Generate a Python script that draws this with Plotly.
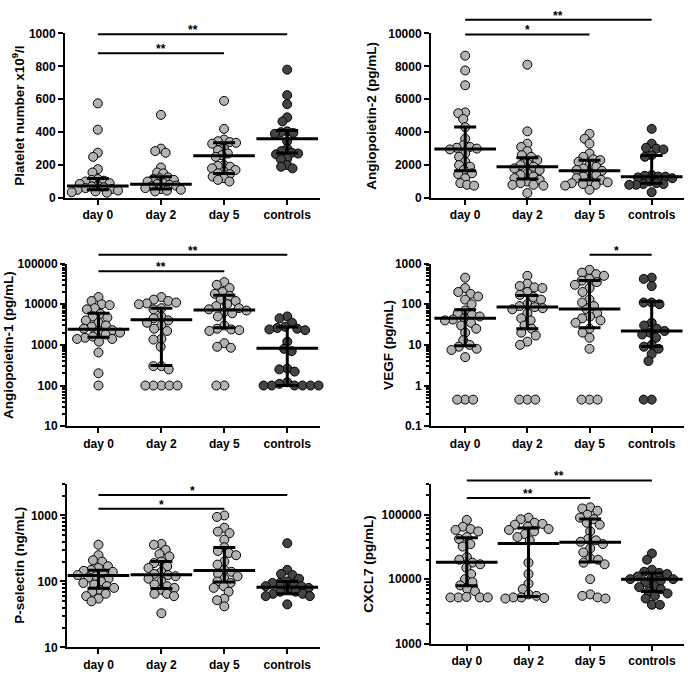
import numpy as np
import plotly.graph_objects as go

categories = ["day 0", "day 2", "day 5", "controls"]

# ---- Panel 1: Platelet number x10^9/l ----
plt_day0 = [575, 415, 275, 250, 175, 155, 115, 110, 105, 100, 90, 85, 75, 70, 65, 60, 55, 50, 45, 40, 35, 32]
plt_day2 = [505, 300, 285, 275, 185, 155, 150, 125, 120, 115, 110, 100, 90, 85, 80, 75, 70, 60, 55, 50, 45, 40]
plt_day5 = [590, 420, 355, 345, 340, 335, 330, 300, 290, 270, 260, 250, 200, 195, 190, 180, 170, 160, 150, 145, 130, 120, 110, 100]
plt_ctrl = [780, 625, 570, 490, 465, 405, 400, 395, 390, 345, 300, 285, 275, 270, 265, 240, 235, 200, 190, 180]
plt_med = [73, 83, 257, 360]
plt_q1 = [50, 55, 149, 273]
plt_q3 = [119, 129, 335, 410]

# ---- Panel 2: Angiopoietin-2 (pg/mL) ----
ang2_day0 = [8650, 7750, 6850, 5200, 5150, 4800, 4300, 3600, 3200, 3100, 3050, 3000, 2950, 2700, 2500, 2200, 2000, 1900, 1700, 1500, 1450, 1200, 900, 800, 750]
ang2_day2 = [8100, 4050, 3300, 3100, 2850, 2600, 2500, 2300, 2100, 2000, 1900, 1800, 1700, 1500, 1400, 1300, 1200, 1100, 1000, 900, 800, 800, 750, 300]
ang2_day5 = [3900, 3600, 3300, 2700, 2500, 2350, 2300, 2200, 2000, 1900, 1800, 1700, 1650, 1500, 1400, 1300, 1200, 1100, 1000, 950, 900, 850, 800, 750, 500]
ang2_ctrl = [4200, 3300, 3050, 3000, 2950, 2600, 2500, 1400, 1350, 1300, 1300, 1250, 1200, 1000, 900, 850, 850, 800, 800, 350]
ang2_med = [2980, 1890, 1650, 1290]
ang2_q1 = [1650, 1150, 1090, 895]
ang2_q3 = [4310, 2440, 2290, 2580]

# ---- Panel 3: Angiopoietin-1 (pg/mL) ----
ang1_day0 = [15000, 12000, 10000, 9500, 8000, 7500, 5800, 5000, 4700, 4000, 3500, 3000, 2800, 2500, 2300, 2200, 2000, 1800, 1600, 1500, 1400, 1400, 1200, 650, 200, 100]
ang1_day2 = [15000, 13000, 12000, 11000, 10500, 10000, 8000, 7500, 5000, 4500, 4000, 3500, 3000, 2500, 2200, 1400, 1350, 900, 300, 300, 250, 100, 100, 100, 100, 100]
ang1_day5 = [35000, 30000, 25000, 20000, 18000, 16000, 13000, 12000, 10000, 9000, 8000, 7500, 7000, 6500, 6000, 5000, 3000, 2500, 2400, 2300, 2200, 1100, 900, 850, 100, 100]
ang1_ctrl = [5000, 4500, 3500, 2800, 2600, 2500, 2400, 2300, 1200, 800, 700, 260, 250, 220, 120, 110, 100, 100, 100, 100, 100, 100]
ang1_med = [2420, 4130, 7180, 830]
ang1_q1 = [1530, 313, 2650, 100]
ang1_q3 = [5970, 8020, 16700, 2750]

# ---- Panel 4: VEGF (pg/mL) ----
vegf_day0 = [450, 250, 200, 180, 155, 130, 100, 70, 60, 55, 50, 45, 42, 40, 35, 30, 25, 20, 13, 10, 9, 8, 7.5, 5, 0.45, 0.45, 0.45]
vegf_day2 = [500, 320, 280, 260, 250, 200, 170, 150, 130, 100, 90, 85, 80, 75, 60, 45, 40, 30, 25, 20, 17, 12, 10, 0.45, 0.45, 0.45]
vegf_day5 = [700, 600, 550, 500, 420, 380, 350, 300, 250, 200, 130, 110, 90, 75, 60, 50, 45, 40, 35, 25, 20, 15, 8, 0.45, 0.45, 0.45]
vegf_ctrl = [450, 420, 280, 110, 110, 100, 35, 30, 25, 22, 20, 18, 15, 10, 9, 8, 6, 4, 0.45, 0.45]
vegf_med = [45, 86, 76, 22]
vegf_q1 = [9.5, 25, 26.5, 9.1]
vegf_q3 = [73, 164, 384, 116]

# ---- Panel 5: P-selectin (ng/mL) ----
psel_day0 = [360, 250, 210, 200, 170, 160, 150, 145, 140, 130, 125, 120, 115, 110, 100, 95, 90, 85, 80, 75, 70, 65, 60, 55, 50]
psel_day2 = [370, 360, 300, 260, 240, 200, 190, 170, 160, 140, 130, 125, 120, 110, 100, 90, 85, 80, 75, 65, 65, 60, 33]
psel_day5 = [1000, 950, 650, 570, 540, 430, 330, 290, 270, 250, 200, 180, 150, 140, 130, 120, 110, 100, 95, 85, 80, 70, 55, 52, 42]
psel_ctrl = [380, 150, 130, 125, 110, 100, 95, 95, 90, 85, 85, 80, 75, 70, 70, 65, 65, 60, 60, 45]
psel_med = [123, 126, 146, 82]
psel_q1 = [79, 78, 98, 65]
psel_q3 = [148, 200, 327, 100]

# ---- Panel 6: CXCL7 (pg/mL) ----
cxcl_day0 = [83000, 65000, 60000, 58000, 55000, 45000, 42000, 35000, 32000, 22000, 20000, 18000, 17000, 15000, 12000, 10000, 9000, 8000, 7000, 6500, 5200, 5200, 5200, 5200, 5300]
cxcl_day2 = [90000, 85000, 75000, 72000, 70000, 65000, 60000, 58000, 55000, 50000, 45000, 40000, 18000, 12000, 8500, 7000, 5800, 5500, 5200, 5200, 5100, 5000]
cxcl_day5 = [130000, 125000, 115000, 100000, 90000, 85000, 75000, 70000, 55000, 42000, 40000, 38000, 35000, 30000, 26000, 21000, 20000, 18000, 17000, 10000, 5800, 5500, 5200, 5000]
cxcl_ctrl = [25000, 20000, 14000, 13000, 12500, 12000, 11000, 10500, 10000, 10000, 9500, 9000, 8000, 7500, 7000, 6500, 6000, 5500, 5000, 4000, 4000]
cxcl_med = [18300, 35800, 37500, 10000]
cxcl_q1 = [7900, 5400, 18500, 6400]
cxcl_q3 = [43700, 62400, 85800, 12400]

titles = ["Platelet number x10<sup>9</sup>/l", "Angiopoietin-2 (pg/mL)", "Angiopoietin-1 (pg/mL)",
          "VEGF (pg/mL)", "P-selectin (ng/mL)", "CXCL7 (pg/mL)"]

# significance bars: (from category, to category, level value, label)
sig1 = [(0, 3, 995, "**"), (0, 2, 880, "**")]
sig2 = [(0, 3, 10830, "**"), (0, 2, 9940, "*")]
sig3 = [(0, 3, 166000, "**"), (0, 2, 64500, "**")]
sig4 = [(2, 3, 1660, "*")]
sig5 = [(0, 3, 2040, "*"), (0, 2, 1260, "*")]
sig6 = [(0, 3, 340000, "**"), (0, 2, 182000, "**")]

W, H = 688, 678
FONT = "Liberation Sans, Arial, Helvetica, sans-serif"
LIGHT = "#b3b3b3"
DARK = "#444444"

# panel layout in pixels: left, right, top, bottom, x-range, y-range, log?
panels = [
    dict(groups=[plt_day0, plt_day2, plt_day5, plt_ctrl], med=plt_med, q1=plt_q1, q3=plt_q3,
         px=(65, 320, 27, 195), xr=(-0.52, 3.52), yr=(0, 1000), log=False, dtick=200, sig=sig1, tx=18, D=6.3),
    dict(groups=[ang2_day0, ang2_day2, ang2_day5, ang2_ctrl], med=ang2_med, q1=ang2_q1, q3=ang2_q3,
         px=(431, 684, 27, 195), xr=(-0.55, 3.52), yr=(0, 10000), log=False, dtick=2000, sig=sig2, tx=372, D=7.0),
    dict(groups=[ang1_day0, ang1_day2, ang1_day5, ang1_ctrl], med=ang1_med, q1=ang1_q1, q3=ang1_q3,
         px=(67, 320, 262, 428), xr=(-0.5, 3.52), yr=(1, 5), log=True, sig=sig3, tx=9, D=8.0),
    dict(groups=[vegf_day0, vegf_day2, vegf_day5, vegf_ctrl], med=vegf_med, q1=vegf_q1, q3=vegf_q3,
         px=(431, 684, 262, 428), xr=(-0.55, 3.52), yr=(-1, 3), log=True, sig=sig4, tx=389, D=8.0),
    dict(groups=[psel_day0, psel_day2, psel_day5, psel_ctrl], med=psel_med, q1=psel_q1, q3=psel_q3,
         px=(67, 320, 487, 654), xr=(-0.5, 3.52), yr=(1, np.log10(3000)), log=True, sig=sig5, tx=20, D=7.5),
    dict(groups=[cxcl_day0, cxcl_day2, cxcl_day5, cxcl_ctrl], med=cxcl_med, q1=cxcl_q1, q3=cxcl_q3,
         px=(431, 684, 487, 650), xr=(-0.58, 3.52), yr=(3, np.log10(300000)), log=True, sig=sig6, tx=369, D=8.0),
]


def swarm(vals, sy, log, D=8.0):
    v = np.asarray(vals, float)
    yp = (np.log10(v) if log else v) * sy
    order = np.argsort(-yp)
    placed = []
    offs = np.zeros(len(v))
    for i in order:
        cands = [0.0]
        for (xj, yj) in placed:
            dy = yp[i] - yj
            if abs(dy) < D:
                dx = np.sqrt(D * D - dy * dy)
                cands += [xj + dx, xj - dx]
        cands.sort(key=lambda c: (round(abs(c), 6), c))
        for c in cands:
            if all((c - xj) ** 2 + (yp[i] - yj) ** 2 >= D * D - 1e-6 for xj, yj in placed):
                offs[i] = c
                placed.append((c, yp[i]))
                break
    return offs


fig = go.Figure()
layout = dict(width=W, height=H, margin=dict(l=0, r=0, t=0, b=0), showlegend=False,
              paper_bgcolor="white", plot_bgcolor="white",
              font=dict(family=FONT, color="black", size=12, weight="bold"))
shapes, annotations = [], []

for k, p in enumerate(panels):
    n = k + 1
    xa, ya = ("x%d" % n if n > 1 else "x"), ("y%d" % n if n > 1 else "y")
    L, R, T, B = p["px"]
    sx = (R - L) / (p["xr"][1] - p["xr"][0])
    sy = (B - T) / (p["yr"][1] - p["yr"][0])
    for gi, g in enumerate(p["groups"]):
        offs = swarm(g, sy, p["log"], p["D"]) / sx
        fig.add_trace(go.Scatter(
            x=gi + offs, y=g, mode="markers", xaxis=xa, yaxis=ya, cliponaxis=False,
            marker=dict(size=9, color=DARK if gi == 3 else LIGHT, line=dict(color="black", width=1)),
            hoverinfo="y"))
    med = np.array(p["med"], float)
    fig.add_trace(go.Scatter(
        x=list(range(4)), y=med, mode="markers", xaxis=xa, yaxis=ya, cliponaxis=False,
        marker=dict(symbol="line-ew", size=44, color="black", line=dict(width=3, color="black")),
        error_y=dict(type="data", symmetric=False, array=np.array(p["q3"]) - med,
                     arrayminus=med - np.array(p["q1"]), thickness=3, width=11, color="black")))

    xaxis = dict(domain=[L / W, R / W], range=list(p["xr"]), anchor=ya,
                 tickvals=list(range(4)), ticktext=categories, showline=True, linecolor="black",
                 linewidth=2, ticks="outside", ticklen=5, tickwidth=2, tickcolor="black",
                 showgrid=False, zeroline=False, fixedrange=True,
                 tickfont=dict(size=12, family=FONT, weight="bold"))
    yaxis = dict(domain=[1 - B / H, 1 - T / H], range=list(p["yr"]), anchor=xa,
                 showline=True, linecolor="black", linewidth=2, ticks="outside", ticklen=5,
                 tickwidth=2, tickcolor="black", showgrid=False, zeroline=False,
                 tickfont=dict(size=12, family=FONT, weight="bold"))
    if p["log"]:
        lo, hi = p["yr"]
        dec = list(range(int(np.ceil(lo)), int(np.floor(hi)) + 1))
        minors = [m * 10.0 ** d for d in range(int(np.floor(lo)), int(np.ceil(hi)) + 1)
                  for m in range(2, 10) if lo < np.log10(m * 10.0 ** d) <= hi + 1e-9]
        yaxis.update(type="log", tickmode="array", tickvals=[10.0 ** d for d in dec],
                     ticktext=[("%g" % (10.0 ** d)) if d < 0 else str(int(10 ** d)) for d in dec],
                     minor=dict(tickmode="array", tickvals=minors, ticks="outside", ticklen=3,
                                tickwidth=1.5, tickcolor="black", showgrid=False))
    else:
        yaxis.update(tick0=0, dtick=p["dtick"], tickformat="d")
    layout["xaxis" + (str(n) if n > 1 else "")] = xaxis
    layout["yaxis" + (str(n) if n > 1 else "")] = yaxis

    # significance bars
    def yfrac(v):
        vv = np.log10(v) if p["log"] else v
        return (vv - p["yr"][0]) / (p["yr"][1] - p["yr"][0])

    def xfrac(c):
        return (c - p["xr"][0]) / (p["xr"][1] - p["xr"][0])

    for (a, b, lvl, lab) in p["sig"]:
        shapes.append(dict(type="line", xref=xa + " domain", yref=ya + " domain",
                           x0=xfrac(a), x1=xfrac(b), y0=yfrac(lvl), y1=yfrac(lvl),
                           line=dict(color="black", width=2)))
        annotations.append(dict(xref=xa + " domain", yref=ya + " domain", x=xfrac((a + b) / 2),
                                y=yfrac(lvl), text=lab, showarrow=False, yanchor="bottom",
                                yshift=-5, font=dict(size=12, family=FONT, weight="bold")))
    # y-axis title
    annotations.append(dict(xref="paper", yref="paper", x=p["tx"] / W, y=1 - (T + B) / 2 / H,
                            text=titles[k], textangle=-90, showarrow=False,
                            xanchor="center", yanchor="middle",
                            font=dict(size=13.5, family=FONT, weight="bold")))

layout["shapes"] = shapes
layout["annotations"] = annotations
fig.update_layout(**layout)
fig.write_html("out.html", config={"displayModeBar": False},
               post_script="document.body.style.margin='0px';document.body.style.overflow='hidden';")
